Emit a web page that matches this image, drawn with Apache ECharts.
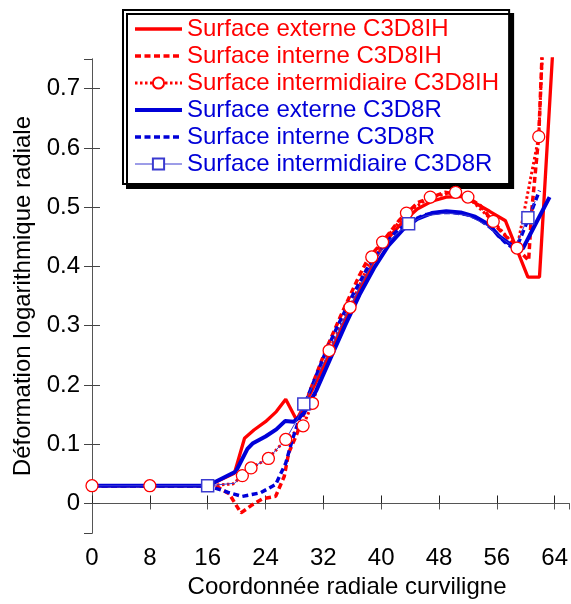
<!DOCTYPE html>
<html>
<head>
<meta charset="utf-8">
<script src="https://cdn.jsdelivr.net/npm/echarts@6/dist/echarts.min.js"></script>
<style>
html,body{margin:0;padding:0;background:#fff;}
#chart{width:571px;height:604px;}
</style>
</head>
<body>
<div id="chart"></div>
<script>
// ---------- data ----------
const seriesNames = [
  'Surface externe C3D8IH',
  'Surface interne C3D8IH',
  'Surface intermidiaire C3D8IH',
  'Surface externe C3D8R',
  'Surface interne C3D8R',
  'Surface intermidiaire C3D8R'
];
const xTickValues = [0, 8, 16, 24, 32, 40, 48, 56, 64];
const yTickLabels = ['0', '0.1', '0.2', '0.3', '0.4', '0.5', '0.6', '0.7'];

// Surface externe C3D8IH (red solid)
const ihExtX = [0, 8, 16, 19.7, 21.1, 22.4, 24, 25.5, 26.8, 28.3, 29.5, 31, 33, 35, 37, 39, 41, 43, 45, 47, 49, 51, 52, 55, 57.2, 60.3, 61.9, 64.2];
const ihExtY = [0.03, 0.03, 0.03, 0.051, 0.11, 0.124, 0.138, 0.155, 0.176, 0.141, 0.168, 0.205, 0.255, 0.308, 0.36, 0.41, 0.448, 0.475, 0.497, 0.51, 0.517, 0.518, 0.514, 0.493, 0.477, 0.382, 0.382, 0.86];

// Surface interne C3D8IH (red dashed)
const ihIntX = [0, 8, 16, 17.5, 19, 20.6, 22.2, 23.6, 25.4, 26.6, 27.2, 28.2, 29.1, 30, 32.3, 34.6, 37, 38.3, 40.1, 42.5, 45.1, 48.8, 51.5, 53.7, 56.2, 58.4, 60.4, 60.8, 61.8, 62.2, 62.3];
const ihIntY = [0.03, 0.03, 0.03, 0.027, 0.016, -0.016, -0.002, 0.008, 0.012, 0.046, 0.085, 0.113, 0.142, 0.185, 0.258, 0.322, 0.385, 0.415, 0.44, 0.478, 0.508, 0.525, 0.52, 0.503, 0.464, 0.436, 0.41, 0.49, 0.62, 0.74, 0.78];

// Surface intermidiaire C3D8IH (red dotted, circle markers)
const ihMidX = [0, 8, 16, 19.5, 20.8, 22.0, 24.4, 26.8, 29.2, 30.5, 32.8, 35.7, 38.7, 40.2, 43.5, 46.8, 50.3, 52.0, 55.5, 58.8, 61.8, 62.3];
const ihMidY = [0.03, 0.03, 0.03, 0.033, 0.047, 0.06, 0.076, 0.108, 0.131, 0.169, 0.258, 0.331, 0.416, 0.441, 0.49, 0.517, 0.525, 0.517, 0.476, 0.431, 0.619, 0.76];
const ihMidMark = [1, 1, 0, 0, 1, 1, 1, 1, 1, 1, 1, 1, 1, 1, 1, 1, 1, 1, 1, 1, 1, 0];

// Surface externe C3D8R (blue solid)
const rExtX = [0, 8, 16, 19.9, 21.5, 22.2, 24, 25.5, 26.7, 27.9, 29.3, 31, 33, 35, 37, 39, 41, 43, 45, 47, 49, 51, 53, 55, 56.2, 58, 59.6, 61.5, 63.3];
const rExtY = [0.03, 0.03, 0.03, 0.054, 0.092, 0.101, 0.113, 0.125, 0.139, 0.138, 0.152, 0.19, 0.245, 0.3, 0.352, 0.397, 0.435, 0.462, 0.48, 0.49, 0.493, 0.491, 0.484, 0.47, 0.452, 0.436, 0.43, 0.475, 0.517];

// Surface interne C3D8R (blue dashed)
const rIntX = [0, 8, 16, 17.8, 19, 20.8, 23.3, 25.4, 26.8, 27.7, 28.6, 30, 31, 32.3, 34, 36, 38, 40, 42, 44, 46, 48, 50, 52, 53.5, 55.5, 57.1, 58, 59, 60.7, 61.9];
const rIntY = [0.03, 0.03, 0.03, 0.023, 0.018, 0.012, 0.018, 0.032, 0.068, 0.107, 0.14, 0.185, 0.215, 0.255, 0.3, 0.35, 0.395, 0.43, 0.458, 0.476, 0.487, 0.491, 0.491, 0.487, 0.48, 0.462, 0.441, 0.433, 0.44, 0.49, 0.528];

// Surface intermidiaire C3D8R (thin blue, square markers)
const rMidX = [0, 8, 16, 19.7, 20.8, 22, 24.4, 26.8, 28.3, 29.3, 31, 33, 35, 37, 39, 41, 43.8, 46, 49, 52, 54.5, 57, 58.5, 60.3, 61.3];
const rMidY = [0.03, 0.03, 0.03, 0.034, 0.047, 0.06, 0.076, 0.108, 0.14, 0.168, 0.21, 0.262, 0.315, 0.365, 0.41, 0.443, 0.472, 0.485, 0.49, 0.486, 0.47, 0.445, 0.432, 0.482, 0.51];
const rMidMark = [0, 0, 1, 0, 0, 0, 0, 0, 0, 1, 0, 0, 0, 0, 0, 0, 1, 0, 0, 0, 0, 0, 0, 1, 0];

// ---------- styling ----------
const RED = '#ff0000';
const BLUE = '#0000d8';
const SQ = '#3a3ad0';
const FONT = '"Liberation Sans", Arial, Helvetica, sans-serif';
const hasMarker = [false, false, true, false, false, true];

function pts(xs, ys) { return xs.map((x, i) => [x, ys[i]]); }
function marks(xs, ys, flags) { return xs.map((x, i) => [x, ys[i]]).filter((_, i) => flags[i]); }

const chart = echarts.init(document.getElementById('chart'), null, { renderer: 'canvas' });

const option = {
  animation: false,
  backgroundColor: '#fff',
  textStyle: { fontFamily: FONT },
  grid: { left: 92, right: 0, top: 59, bottom: 67, containLabel: false },
  legend: {
    orient: 'vertical',
    left: 123,
    top: 10,
    padding: [7, 10, 8, 10],
    itemGap: 3,
    itemWidth: 47,
    itemHeight: 14,
    backgroundColor: '#fff',
    borderColor: '#000',
    borderWidth: 2,
    borderRadius: 0,
    shadowColor: '#000',
    shadowBlur: 0,
    shadowOffsetX: 4,
    shadowOffsetY: 4,
    selectedMode: false,
    lineStyle: { width: 'inherit' },
    textStyle: { fontSize: 24, fontFamily: FONT },
    data: seriesNames.map((n, i) => {
      const item = { name: n, textStyle: { color: i < 3 ? RED : BLUE, fontSize: 24, fontFamily: FONT } };
      if (!hasMarker[i]) item.itemStyle = { opacity: 0 };
      return item;
    })
  },
  xAxis: [
    {
      type: 'value', min: 0, max: 66, interval: 8, position: 'bottom',
      axisLine: { lineStyle: { color: '#000', width: 1 } },
      axisTick: { inside: true, length: 8, lineStyle: { color: '#222' } },
      axisLabel: {
        fontSize: 24, color: '#000', margin: 13, fontFamily: FONT, showMaxLabel: false,
        formatter: v => (xTickValues.indexOf(v) >= 0 ? String(v) : '')
      },
      splitLine: { show: false },
      name: 'Coordonnée radiale curviligne', nameLocation: 'middle', nameGap: 39,
      nameTextStyle: { fontSize: 24, color: '#000', fontFamily: FONT, padding: [0, 0, 0, 33] }
    },
    {
      type: 'value', min: 0, max: 66, interval: 8, position: 'top',
      axisLine: { lineStyle: { color: '#555', width: 1 } },
      axisTick: { inside: true, length: 6, lineStyle: { color: '#555' } },
      axisLabel: { show: false },
      splitLine: { show: false }
    }
  ],
  yAxis: [
    {
      type: 'value', min: -0.05, max: 0.75, splitNumber: 8, position: 'left',
      axisLine: { lineStyle: { color: '#555', width: 1 } },
      axisTick: { inside: true, length: 8, lineStyle: { color: '#444' } },
      axisLabel: {
        fontSize: 24, color: '#000', margin: 12, fontFamily: FONT, showMinLabel: false, showMaxLabel: false,
        formatter: v => { const s = String(Math.round(v * 10) / 10); return yTickLabels.indexOf(s) >= 0 ? s : ''; }
      },
      splitLine: { show: false },
      name: 'Déformation logarithmique radiale', nameLocation: 'middle', nameGap: 57,
      nameTextStyle: { fontSize: 24, color: '#000', fontFamily: FONT }
    },
    {
      type: 'value', min: -0.05, max: 0.75, splitNumber: 8, position: 'right',
      axisLine: { lineStyle: { color: '#555', width: 1 } },
      axisTick: { inside: true, length: 8, lineStyle: { color: '#444' } },
      axisLabel: { show: false },
      splitLine: { show: false }
    }
  ],
  series: [
    {
      name: seriesNames[0], type: 'line', data: pts(ihExtX, ihExtY), symbol: 'none',
      lineStyle: { color: RED, width: 3.3 }, itemStyle: { color: RED }, z: 2
    },
    {
      name: seriesNames[1], type: 'line', data: pts(ihIntX, ihIntY), symbol: 'none',
      lineStyle: { color: RED, width: 3.5, type: [6, 3.5] }, itemStyle: { color: RED }, z: 2
    },
    {
      name: seriesNames[2], type: 'line', data: pts(ihMidX, ihMidY), symbol: 'emptyCircle', showSymbol: false,
      lineStyle: { color: RED, width: 3, type: [2.5, 2.5] }, itemStyle: { color: RED }, z: 2
    },
    {
      name: seriesNames[3], type: 'line', data: pts(rExtX, rExtY), symbol: 'none',
      lineStyle: { color: BLUE, width: 4 }, itemStyle: { color: BLUE }, z: 2
    },
    {
      name: seriesNames[4], type: 'line', data: pts(rIntX, rIntY), symbol: 'none',
      lineStyle: { color: BLUE, width: 3.5, type: [6, 3.5] }, itemStyle: { color: BLUE }, z: 2
    },
    {
      name: seriesNames[5], type: 'line', data: pts(rMidX, rMidY), symbol: 'emptyRect', showSymbol: false,
      lineStyle: { color: SQ, width: 1 }, itemStyle: { color: SQ }, z: 2
    },
    {
      type: 'scatter', data: marks(ihMidX, ihMidY, ihMidMark), symbol: 'circle', symbolSize: 12,
      itemStyle: { color: '#fff', borderColor: RED, borderWidth: 1.3, opacity: 1 }, z: 4, silent: true
    },
    {
      type: 'scatter', data: marks(rMidX, rMidY, rMidMark), symbol: 'rect', symbolSize: 12,
      itemStyle: { color: '#fff', borderColor: SQ, borderWidth: 1.5, opacity: 1 }, z: 4, silent: true
    }
  ]
};
chart.setOption(option);
</script>
</body>
</html>
